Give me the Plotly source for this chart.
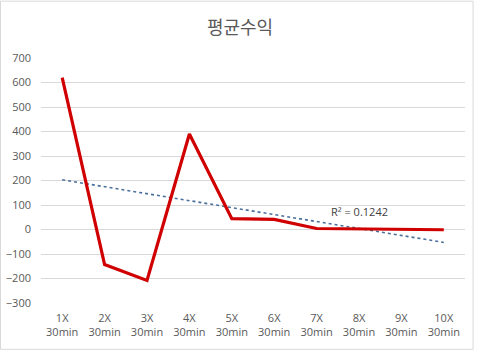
import numpy as np
import plotly.graph_objects as go

categories = ["1X<br>30min", "2X<br>30min", "3X<br>30min", "4X<br>30min", "5X<br>30min",
              "6X<br>30min", "7X<br>30min", "8X<br>30min", "9X<br>30min", "10X<br>30min"]
values = [620, -143, -208, 390, 44, 41, 4, 3, 1, -1]
y_ticks = [-300, -200, -100, 0, 100, 200, 300, 400, 500, 600, 700]
title_text = "평균수익"
r2_text = "R² = 0.1242"

xs = np.arange(1, len(values) + 1)
slope, intercept = np.polyfit(xs, values, 1)
trend = slope * xs + intercept

fig = go.Figure()
fig.add_trace(go.Scatter(x=categories, y=trend, mode="lines",
                         line=dict(color="#4A6F9A", width=1.6, dash="dot"),
                         hoverinfo="skip", showlegend=False))
fig.add_trace(go.Scatter(x=categories, y=values, mode="lines",
                         line=dict(color="#D00000", width=3.2),
                         showlegend=False))

fig.add_annotation(x=7.0, y=72, xref="x", yref="y", text=r2_text,
                   showarrow=False, xanchor="center", yanchor="middle",
                   font=dict(family="Open Sans, Noto Sans", size=11, color="#404040"))

fig.add_shape(type="rect", xref="paper", yref="paper",
              x0=-0.0955, x1=1.019, y0=-0.189, y1=1.232,
              line=dict(color="#D9D9D9", width=1), fillcolor="rgba(0,0,0,0)", layer="below")

fig.update_layout(
    width=480, height=351,
    margin=dict(l=41, r=15, t=58, b=48, autoexpand=False),
    paper_bgcolor="white", plot_bgcolor="white",
    title=dict(text=title_text, x=0.5, xanchor="center", y=0.92, yanchor="middle",
               font=dict(family="Noto Sans CJK KR", size=18, color="#595959")),
    xaxis=dict(type="category", range=[-0.5, 9.5], showgrid=False, zeroline=False,
               showline=False, ticks="", ticklabelstandoff=7, automargin=False,
               tickfont=dict(family="Open Sans, Noto Sans", size=11, color="#595959")),
    yaxis=dict(range=[-300, 700], tickvals=y_ticks, showgrid=True, gridcolor="#D9D9D9",
               gridwidth=1, zeroline=False, showline=False, ticks="", ticklabelstandoff=9,
               automargin=False,
               tickfont=dict(family="Open Sans, Noto Sans", size=11, color="#595959")),
)

fig.write_html("out.html")
